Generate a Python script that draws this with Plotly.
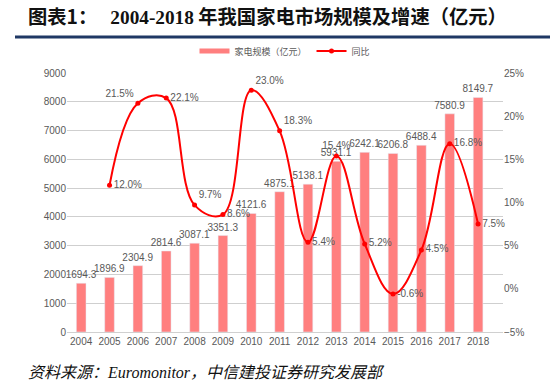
import plotly.graph_objects as go

years = [str(y) for y in range(2004, 2019)]
market = [1694.3, 1896.9, 2304.9, 2814.6, 3087.1, 3351.3, 4121.6, 4875.1,
          5138.1, 5931.1, 6242.1, 6206.8, 6488.4, 7580.9, 8149.7]
growth_years = years[1:]
growth = [12.0, 21.5, 22.1, 9.7, 8.6, 23.0, 18.3, 5.4, 15.4, 5.2, -0.6, 4.5, 16.8, 7.5]
growth_pos = ["middle right", "top left", "middle right", "top right", "middle right",
              "top right", "top right", "middle right", "top center", "middle right",
              "middle right", "middle right", "middle right", "middle right"]

BAR = "#FF7F7F"
LINE = "#FF0000"
GREY = "#595959"

W, H = 554, 386
ML, MR, MT, MB = 67, 51, 73, 54
PW, PH = W - ML - MR, H - MT - MB


def px(x):
    return (x - ML) / PW


def py(y):
    return (H - MB - y) / PH


fig = go.Figure()
fig.add_trace(go.Bar(
    x=years, y=market, marker_color=BAR, name="家电规模（亿元）", showlegend=False,
    text=[f"{v:.1f}" for v in market], textposition="outside", constraintext="none",
    textfont=dict(size=10, color=GREY, family="Liberation Sans"), cliponaxis=False,
))
fig.add_trace(go.Scatter(
    x=[None], y=[None], mode="lines", line=dict(color=BAR, width=5),
    name="家电规模（亿元）",
))
fig.add_trace(go.Scatter(
    x=growth_years, y=growth, yaxis="y2", mode="lines+markers+text",
    line=dict(color=LINE, width=2, shape="spline", smoothing=1.1),
    marker=dict(color=LINE, size=5), name="同比",
    text=[f"{v:.1f}%" for v in growth], textposition=growth_pos,
    textfont=dict(size=10, color=GREY, family="Liberation Sans"), cliponaxis=False,
))

fig.update_layout(
    width=W, height=H, margin=dict(l=ML, r=MR, t=MT, b=MB),
    paper_bgcolor="white", plot_bgcolor="white",
    bargap=0.66,
    font=dict(family="Liberation Sans, Noto Sans CJK SC", color=GREY, size=10),
    xaxis=dict(type="category", showgrid=False, showline=True, linecolor="#D0D0D0",
               ticks="", tickfont=dict(size=10, color=GREY)),
    yaxis=dict(range=[0, 9000], dtick=1000, showgrid=True, gridcolor="#CFCFCF",
               zeroline=False, ticks="", tickfont=dict(size=10, color=GREY)),
    yaxis2=dict(range=[-5, 25], dtick=5, ticksuffix="%", overlaying="y", side="right",
                showgrid=False, zeroline=False, ticks="", tickfont=dict(size=10, color=GREY)),
    legend=dict(orientation="h", x=px(285), y=py(51), xanchor="center", yanchor="middle",
                font=dict(size=9, color=GREY, family="Noto Sans CJK SC"),
                bgcolor="rgba(0,0,0,0)"),
    showlegend=True,
)

fig.add_annotation(
    xref="paper", yref="paper", x=px(26), y=py(16), xanchor="left", yanchor="middle",
    showarrow=False,
    text=("<b>图表1：   <span style=\"font-family:'Liberation Serif'\">2004-2018</span> "
          "年我国家电市场规模及增速（亿元）</b>"),
    font=dict(size=19.3, color="#111111", family="Noto Sans CJK SC"),
)
fig.add_shape(type="line", xref="paper", yref="paper", x0=px(15), x1=px(550),
              y0=py(37), y1=py(37), line=dict(color="#1F3864", width=3))
fig.add_annotation(
    xref="paper", yref="paper", x=px(26), y=py(371), xanchor="left", yanchor="middle",
    showarrow=False,
    text=("<i>资料来源：<span style=\"font-family:'Liberation Serif'\">Euromonitor</span>"
          "，中信建投证券研究发展部</i>"),
    font=dict(size=16, color="#111111", family="Noto Sans CJK SC"),
)

fig.write_html("out.html", config={"displayModeBar": False},
               post_script="document.body.style.margin='0';")
